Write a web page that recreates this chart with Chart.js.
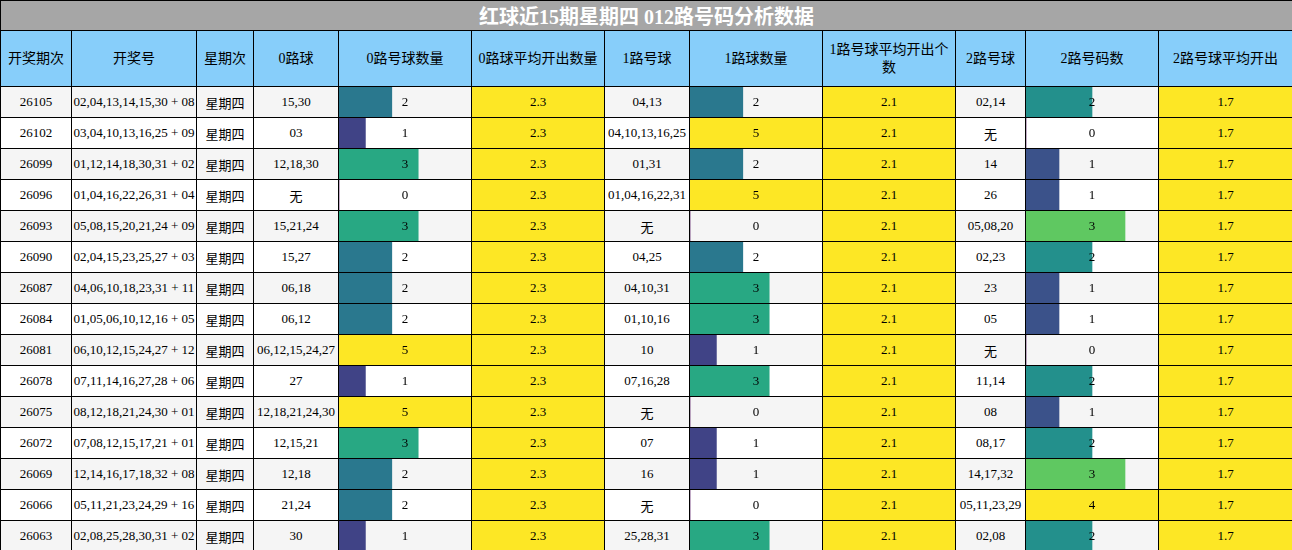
<!DOCTYPE html>
<html><head><meta charset="utf-8">
<script src="https://cdn.jsdelivr.net/npm/chart.js@4"></script>
<style>
body{margin:0;background:#fff;font-family:"Liberation Serif","Noto Sans CJK SC",serif;}
table{border-collapse:collapse;table-layout:fixed;width:1292px;}
td,th{border:1px solid #000;padding:0;text-align:center;font-size:13px;font-weight:normal;}
.title{background:#a6a6a6;color:#fff;font-weight:bold;font-size:20px;height:27px;}
th{background:#87cefa;height:55px;font-size:14px;line-height:18px;}
td{height:30px;position:relative;}
tr.odd td{background:#f5f5f5;}
td.avg{background:#fde725 !important;}
.box{position:absolute;left:0;top:0;right:0;bottom:0;}
</style></head><body>
<table id="tbl">
<colgroup><col style="width:71px"><col style="width:125px"><col style="width:57px"><col style="width:85px"><col style="width:133px"><col style="width:133px"><col style="width:85px"><col style="width:133px"><col style="width:133px"><col style="width:70px"><col style="width:133px"><col style="width:134px"></colgroup>
<tr><td class="title" colspan="12">红球近15期星期四 012路号码分析数据</td></tr>
<tr id="head"></tr>
</table>
<script>
// données du tableau
const headers = ['开奖期次','开奖号','星期次','0路球','0路号球数量','0路球平均开出数量','1路号球','1路球数量','1路号球平均开出个数','2路号球','2路号码数','2路号球平均开出'];
const periods = ['26105','26102','26099','26096','26093','26090','26087','26084','26081','26078','26075','26072','26069','26066','26063'];
const draws = ['02,04,13,14,15,30 + 08','03,04,10,13,16,25 + 09','01,12,14,18,30,31 + 02','01,04,16,22,26,31 + 04','05,08,15,20,21,24 + 09','02,04,15,23,25,27 + 03','04,06,10,18,23,31 + 11','01,05,06,10,12,16 + 05','06,10,12,15,24,27 + 12','07,11,14,16,27,28 + 06','08,12,18,21,24,30 + 01','07,08,12,15,17,21 + 01','12,14,16,17,18,32 + 08','05,11,21,23,24,29 + 16','02,08,25,28,30,31 + 02'];
const zeroBalls = ['15,30','03','12,18,30','无','15,21,24','15,27','06,18','06,12','06,12,15,24,27','27','12,18,21,24,30','12,15,21','12,18','21,24','30'];
const zeroCnt = [2,1,3,0,3,2,2,2,5,1,5,3,2,2,1];
const oneBalls = ['04,13','04,10,13,16,25','01,31','01,04,16,22,31','无','04,25','04,10,31','01,10,16','10','07,16,28','无','07','16','无','25,28,31'];
const oneCnt = [2,5,2,5,0,2,3,3,1,3,0,1,1,0,3];
const twoBalls = ['02,14','无','14','26','05,08,20','02,23','23','05','无','11,14','08','08,17','14,17,32','05,11,23,29','02,08'];
const twoCnt = [2,0,1,1,3,2,1,1,0,2,1,2,3,4,2];
const avgs = ['2.3','2.1','1.7'];

const viridis = [[68,1,84],[72,40,120],[62,74,137],[49,104,142],[38,130,142],[31,158,137],[53,183,121],[109,205,89],[180,222,44],[253,231,37]];
function couleur(t){
  const p = t*(viridis.length-1), i = Math.min(Math.floor(p), viridis.length-2), f = p-i;
  const c = viridis[i].map((v,k)=>Math.round(v+(viridis[i+1][k]-v)*f));
  return 'rgb('+c.join(',')+')';
}

const head = document.getElementById('head');
headers.forEach(h=>{ const th=document.createElement('th'); th.textContent=h; head.appendChild(th); });

const tbl = document.getElementById('tbl');
const cells = [];
periods.forEach((p,i)=>{
  const tr = document.createElement('tr');
  if(i%2===0) tr.className='odd';
  const vals = [p, draws[i], '星期四', zeroBalls[i], null, avgs[0], oneBalls[i], null, avgs[1], twoBalls[i], null, avgs[2]];
  const cnts = {4:zeroCnt, 7:oneCnt, 10:twoCnt};
  vals.forEach((v,j)=>{
    const td=document.createElement('td');
    if(j===5||j===8||j===11) td.className='avg';
    if(v!==null) td.textContent=v;
    else { const d=document.createElement('div'); d.className='box'; const c=document.createElement('canvas'); d.appendChild(c); td.appendChild(d); cells.push({c, arr:cnts[j], i}); }
    tr.appendChild(td);
  });
  tbl.appendChild(tr);
});

const texte = {
  id:'texte',
  afterDatasetsDraw(chart){
    const {ctx, chartArea:a} = chart;
    ctx.save(); ctx.fillStyle='#000'; ctx.font='13px "Liberation Serif"';
    ctx.textAlign='center'; ctx.textBaseline='middle';
    ctx.fillText(String(chart.data.datasets[0].data[0]), (a.left+a.right)/2, (a.top+a.bottom)/2+1);
    ctx.restore();
  }
};

cells.forEach(({c, arr, i})=>{
  const max = Math.max(...arr), v = arr[i];
  new Chart(c, {
    type:'bar',
    data:{ labels:[''], datasets:[{ data:[v], backgroundColor:couleur(v/max), barPercentage:1, categoryPercentage:1, borderWidth:0 }] },
    options:{
      indexAxis:'y', responsive:true, maintainAspectRatio:false, animation:false,
      layout:{padding:0},
      plugins:{legend:{display:false}, tooltip:{enabled:false}},
      scales:{ x:{min:0, max:max, display:false}, y:{display:false} }
    },
    plugins:[texte]
  });
});
</script>
</body></html>
